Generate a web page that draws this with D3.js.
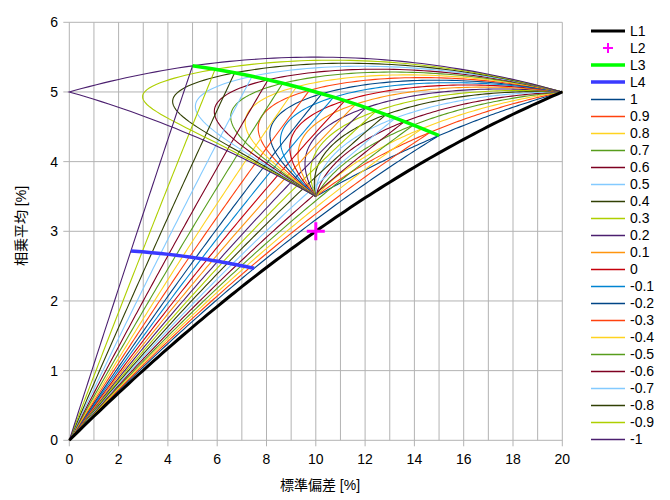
<!DOCTYPE html>
<html>
<head>
<meta charset="utf-8">
<script src="https://cdn.jsdelivr.net/npm/d3@7"></script>
<style>
  body { margin: 0; background: #fff; }
  text { font-family: "Liberation Sans", Arial, "Noto Sans CJK JP", sans-serif; fill: #000; }
</style>
</head>
<body>
<div id="chart"></div>
<script>
// two risky assets: standard deviation and geometric mean [%]
var assetSd = [10, 20];
var assetGm = [3.5, 5];

// correlations and their legend labels / colours
var rhoList = [1, 0.9, 0.8, 0.7, 0.6, 0.5, 0.4, 0.3, 0.2, 0.1, 0, -0.1, -0.2, -0.3, -0.4, -0.5, -0.6, -0.7, -0.8, -0.9, -1];
var rhoLabels = ["1", "0.9", "0.8", "0.7", "0.6", "0.5", "0.4", "0.3", "0.2", "0.1", "0", "-0.1", "-0.2", "-0.3", "-0.4", "-0.5", "-0.6", "-0.7", "-0.8", "-0.9", "-1"];
var rhoColors = ["#004586", "#ff420e", "#ffd320", "#579d1c", "#7e0021", "#83caff", "#314004", "#aecf00", "#4b1f6f", "#ff950e",
                 "#c5000b", "#0084d1", "#004586", "#ff420e", "#ffd320", "#579d1c", "#7e0021", "#83caff", "#314004", "#aecf00", "#4b1f6f"];

// weight of the 20% asset in the mix, and share of the 50/50 mix against cash
var halfWeight = 0.5;
var l4Share = 0.5;
var l2Point = [10, 3];

var xTicks = [0, 2, 4, 6, 8, 10, 12, 14, 16, 18, 20];
var yTicks = [0, 1, 2, 3, 4, 5, 6];

function init()
{
  var w = 670;
  var h = 500;

  var svg = d3.select("#chart")
              .append("svg")
              .attr("width", w)
              .attr("height", h);

  var x = d3.scaleLinear().domain([0, 20]).range([69.3, 562.3]);
  var y = d3.scaleLinear().domain([0, 6]).range([440.3, 22.3]);

  // arithmetic means from geometric mean + variance/2
  var assetAm = assetSd.map(function(s, i){ return assetGm[i] + s * s / 200; });

  var steps = d3.range(0, 1.00001, 0.01).concat([1 / 3]).sort(d3.ascending);

  function mix(wt, rho){
    var s1 = assetSd[0], s2 = assetSd[1];
    var v = wt * wt * s2 * s2 + (1 - wt) * (1 - wt) * s1 * s1 + 2 * wt * (1 - wt) * rho * s1 * s2;
    var sd = Math.sqrt(Math.max(v, 0));
    var am = wt * assetAm[1] + (1 - wt) * assetAm[0];
    return {sd: sd, am: am, gm: am - sd * sd / 200};
  }
  function withCash(p, share){
    var sd = share * p.sd;
    return [sd, share * p.am - sd * sd / 200];
  }

  // grid
  svg.selectAll("line.vgrid")
     .data(d3.range(0, 21))
     .enter()
     .append("line")
     .attr("x1", function(d){ return x(d); })
     .attr("x2", function(d){ return x(d); })
     .attr("y1", y(6))
     .attr("y2", function(d){ return d % 2 == 0 ? y(0) + 6 : y(0); })
     .attr("stroke", "#b3b3b3")
     .attr("stroke-width", 1);

  svg.selectAll("line.hgrid")
     .data(yTicks)
     .enter()
     .append("line")
     .attr("x1", x(0) - 6)
     .attr("x2", x(20))
     .attr("y1", function(d){ return y(d); })
     .attr("y2", function(d){ return y(d); })
     .attr("stroke", "#b3b3b3")
     .attr("stroke-width", 1);

  // tick labels
  svg.selectAll("text.xt")
     .data(xTicks)
     .enter()
     .append("text")
     .attr("x", function(d){ return x(d); })
     .attr("y", 464)
     .attr("text-anchor", "middle")
     .style("font-size", "14px")
     .text(function(d){ return d; });

  svg.selectAll("text.yt")
     .data(yTicks)
     .enter()
     .append("text")
     .attr("x", 58)
     .attr("y", function(d){ return y(d) + 5; })
     .attr("text-anchor", "end")
     .style("font-size", "14px")
     .text(function(d){ return d; });

  svg.append("text")
     .attr("x", 320)
     .attr("y", 490)
     .attr("text-anchor", "middle")
     .style("font-size", "14px")
     .text("標準偏差 [%]");

  svg.append("text")
     .attr("transform", "translate(26,226) rotate(-90)")
     .attr("text-anchor", "middle")
     .style("font-size", "14px")
     .text("相乗平均 [%]");

  var line = d3.line()
               .x(function(d){ return x(d[0]); })
               .y(function(d){ return y(d[1]); });

  // per-correlation curves: asset mix and cash + 50/50 mix
  rhoList.forEach(function(rho, i){
    var curve = steps.map(function(t){ var p = mix(t, rho); return [p.sd, p.gm]; });
    var p = mix(halfWeight, rho);
    var fan = steps.map(function(t){ return withCash(p, t); });

    svg.append("path")
       .attr("d", line(curve))
       .attr("fill", "none")
       .attr("stroke", rhoColors[i])
       .attr("stroke-width", 1.1);

    svg.append("path")
       .attr("d", line(fan))
       .attr("fill", "none")
       .attr("stroke", rhoColors[i])
       .attr("stroke-width", 1.1);
  });

  // L1: cash + 20% asset
  var l1 = steps.map(function(t){
    var p = {sd: assetSd[1], am: assetAm[1]};
    return withCash(p, t);
  });
  svg.append("path")
     .attr("d", line(l1))
     .attr("fill", "none")
     .attr("stroke", "#000")
     .attr("stroke-width", 3);

  // L3 and L4 across correlations
  var l3 = rhoList.map(function(rho){ var p = mix(halfWeight, rho); return [p.sd, p.gm]; });
  var l4 = rhoList.map(function(rho){ return withCash(mix(halfWeight, rho), l4Share); });

  svg.append("path")
     .attr("d", line(l3))
     .attr("fill", "none")
     .attr("stroke", "#00ff00")
     .attr("stroke-width", 3.5);

  svg.append("path")
     .attr("d", line(l4))
     .attr("fill", "none")
     .attr("stroke", "#3a3aff")
     .attr("stroke-width", 3.5);

  // L2 marker
  var px = x(l2Point[0]), py = y(l2Point[1]);
  svg.append("path")
     .attr("d", "M" + (px - 9) + "," + py + "H" + (px + 9) + "M" + px + "," + (py - 9) + "V" + (py + 9))
     .attr("stroke", "#ff00ff")
     .attr("stroke-width", 3);

  // legend
  var lx1 = 591, lx2 = 625, ltx = 630;
  var top = [
    {label: "L1", color: "#000", width: 3},
    {label: "L2", color: "#ff00ff", width: 0},
    {label: "L3", color: "#00ff00", width: 3.5},
    {label: "L4", color: "#3a3aff", width: 3.5}
  ];
  var items = top.concat(rhoLabels.map(function(l, i){ return {label: l, color: rhoColors[i], width: 1}; }));

  var g = svg.selectAll("g.leg")
             .data(items)
             .enter()
             .append("g")
             .attr("transform", function(d, i){ return "translate(0," + (31 + i * 17) + ")"; });

  g.filter(function(d){ return d.width > 0; })
   .append("line")
   .attr("x1", lx1)
   .attr("x2", lx2)
   .attr("y1", function(d){ return d.width == 1 ? 0.5 : 0; })
   .attr("y2", function(d){ return d.width == 1 ? 0.5 : 0; })
   .attr("stroke", function(d){ return d.color; })
   .attr("stroke-width", function(d){ return d.width == 1 ? 1.5 : d.width; });

  g.filter(function(d){ return d.width == 0; })
   .append("path")
   .attr("d", "M603,0H613M608,-5V5")
   .attr("stroke", "#ff00ff")
   .attr("stroke-width", 2);

  g.append("text")
   .attr("x", ltx)
   .attr("y", 5)
   .style("font-size", "14px")
   .text(function(d){ return d.label; });
}

window.onload = init;
</script>
</body>
</html>
